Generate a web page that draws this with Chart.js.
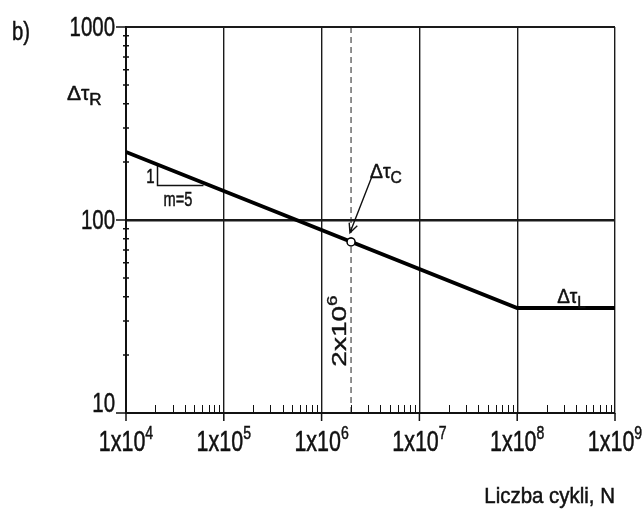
<!DOCTYPE html>
<html>
<head>
<meta charset="utf-8">
<script src="https://cdn.jsdelivr.net/npm/chart.js@4.4.0/dist/chart.umd.min.js"></script>
<style>
  html, body { margin: 0; padding: 0; background: #fff; }
</style>
</head>
<body>
<canvas id="snChart" width="642" height="514"></canvas>
<script>
// S-N curve (shear)
const cycles = [1e4, 1e8, 1e9];
const tauR = [225, 35, 35];
const refCycles = 2e6;
const tauC = 77;
// slope triangle "1 : m=5"
const slopeN = [2.1e4, 2.1e4, 6.2e4];
const slopeTau = [194, 151, 151];
// arrow to the Δτ_C point
const arrowN = [3.3e6, 1.95e6];
const arrowTau = [170, 86];
// axes
const xMajors = [1e4, 1e5, 1e6, 1e7, 1e8, 1e9];
const xExponents = ['4', '5', '6', '7', '8', '9'];
const yMajors = [10, 100, 1000];
const yLabels = ['10', '100', '1000'];
const minorSteps = [2, 3, 4, 5, 6, 7, 8, 9];

const FONT = "'Liberation Sans', Arial, sans-serif";

// parts: [text, size, dy]; sx squeezes the lettering horizontally
function drawRich(ctx, x, y, parts, align, sx, rotate) {
  ctx.save();
  ctx.translate(x, y);
  ctx.scale(sx, 1);
  if (rotate) ctx.rotate(-Math.PI / 2);
  let total = 0;
  parts.forEach(p => { ctx.font = p[1] + 'px ' + FONT; total += ctx.measureText(p[0]).width; });
  let cx = align === 'center' ? -total / 2 : align === 'right' ? -total : 0;
  ctx.fillStyle = '#111';
  ctx.strokeStyle = '#111';
  ctx.lineWidth = 0.5;
  ctx.textBaseline = 'alphabetic';
  ctx.textAlign = 'left';
  parts.forEach(p => {
    ctx.font = p[1] + 'px ' + FONT;
    ctx.fillText(p[0], cx, p[2] || 0);
    ctx.strokeText(p[0], cx, p[2] || 0);
    cx += ctx.measureText(p[0]).width;
  });
  ctx.restore();
}

const decorations = {
  id: 'decorations',
  afterDraw(chart) {
    const ctx = chart.ctx, xs = chart.scales.x, ys = chart.scales.y, a = chart.chartArea;
    ctx.save();
    ctx.strokeStyle = '#111';
    // bottom minor ticks (inside) and major ticks (outside)
    ctx.lineWidth = 1;
    ctx.beginPath();
    xMajors.slice(0, -1).forEach(d => minorSteps.forEach(m => {
      const px = Math.round(xs.getPixelForValue(d * m)) + 0.5;
      ctx.moveTo(px, a.bottom); ctx.lineTo(px, a.bottom - 8);
    }));
    ctx.stroke();
    ctx.lineWidth = 1.5;
    ctx.beginPath();
    xMajors.forEach(v => {
      const px = xs.getPixelForValue(v);
      ctx.moveTo(px, a.bottom); ctx.lineTo(px, a.bottom + 8);
    });
    // left ticks
    yMajors.forEach(v => {
      const py = ys.getPixelForValue(v);
      ctx.moveTo(a.left, py); ctx.lineTo(a.left - 10, py);
    });
    yMajors.slice(0, -1).forEach(d => minorSteps.forEach(m => {
      const py = ys.getPixelForValue(d * m);
      ctx.moveTo(a.left - 3, py); ctx.lineTo(a.left + 3, py);
    }));
    ctx.stroke();

    // arrow to Δτ_C
    const x0 = xs.getPixelForValue(arrowN[0]), y0 = ys.getPixelForValue(arrowTau[0]);
    const x1 = xs.getPixelForValue(arrowN[1]), y1 = ys.getPixelForValue(arrowTau[1]);
    const ang = Math.atan2(y1 - y0, x1 - x0);
    ctx.lineWidth = 1.4;
    ctx.beginPath();
    ctx.moveTo(x0, y0); ctx.lineTo(x1, y1);
    ctx.moveTo(x1 - 10 * Math.cos(ang - 0.45), y1 - 10 * Math.sin(ang - 0.45));
    ctx.lineTo(x1, y1);
    ctx.lineTo(x1 - 10 * Math.cos(ang + 0.45), y1 - 10 * Math.sin(ang + 0.45));
    ctx.stroke();
    ctx.restore();

    // x tick labels
    xMajors.forEach((v, i) => {
      drawRich(ctx, xs.getPixelForValue(v), a.bottom + 38,
        [['1x10', 29], [xExponents[i], 19, -12]], 'center', 0.74);
    });
    // y tick labels
    yMajors.forEach((v, i) => {
      const py = Math.min(ys.getPixelForValue(v), a.bottom - 10) + 9;
      drawRich(ctx, a.left - 11, py, [[yLabels[i], 28]], 'right', 0.73);
    });

    drawRich(ctx, 12, 40, [['b)', 26]], 'left', 0.78);
    drawRich(ctx, 67, 100, [['Δτ', 21], ['R', 17, 5]], 'left', 1);
    drawRich(ctx, a.right, 503, [['Liczba cykli, N', 22]], 'right', 0.93);

    const sx = xs.getPixelForValue(slopeN[0]);
    drawRich(ctx, sx - 3, ys.getPixelForValue(slopeTau[1]) - 2, [['1', 20]], 'right', 0.75);
    drawRich(ctx, sx + 6, ys.getPixelForValue(slopeTau[1]) + 21, [['m=5', 20]], 'left', 0.73);

    const cx = xs.getPixelForValue(refCycles);
    drawRich(ctx, cx + 19, 178, [['Δτ', 21], ['C', 17, 5]], 'left', 0.92);
    drawRich(ctx, cx - 5, 331, [['2x10', 28], ['6', 19, -12]], 'center', 0.74, true);
    drawRich(ctx, xs.getPixelForValue(cycles[1]) + 40, ys.getPixelForValue(tauR[1]) - 5,
      [['Δτ', 21], ['L', 17, 5]], 'left', 0.9);
  }
};

const whiteBg = {
  id: 'whiteBg',
  beforeDraw(chart) {
    const ctx = chart.ctx;
    ctx.save(); ctx.fillStyle = '#fff';
    ctx.fillRect(0, 0, chart.width, chart.height);
    ctx.restore();
  }
};

new Chart(document.getElementById('snChart'), {
  type: 'line',
  data: {
    datasets: [
      {
        data: cycles.map((n, i) => ({ x: n, y: tauR[i] })),
        borderColor: '#000', borderWidth: 3.8, pointRadius: 0, tension: 0, order: 2
      },
      {
        data: [{ x: refCycles, y: 10 }, { x: refCycles, y: 1000 }],
        borderColor: '#222', borderWidth: 1, borderDash: [6, 4], pointRadius: 0, order: 3
      },
      {
        data: slopeN.map((n, i) => ({ x: n, y: slopeTau[i] })),
        borderColor: '#111', borderWidth: 1.5, pointRadius: 0, tension: 0, order: 3
      },
      {
        data: [{ x: refCycles, y: tauC }],
        showLine: false, pointRadius: 4, pointBackgroundColor: '#fff',
        pointBorderColor: '#000', pointBorderWidth: 1.5, order: 1
      }
    ]
  },
  options: {
    responsive: false,
    animation: false,
    events: [],
    layout: { padding: { left: 126, top: 27, right: 27, bottom: 101 } },
    plugins: { legend: { display: false }, tooltip: { enabled: false } },
    scales: {
      x: {
        type: 'logarithmic', min: 1e4, max: 1e9,
        afterBuildTicks: s => { s.ticks = xMajors.map(v => ({ value: v, major: true })); },
        ticks: { display: false },
        grid: { color: '#1a1a1a', lineWidth: 1.4, drawTicks: false },
        border: { display: true, color: '#111', width: 2 }
      },
      y: {
        type: 'logarithmic', min: 10, max: 1000,
        afterBuildTicks: s => { s.ticks = yMajors.map(v => ({ value: v, major: true })); },
        ticks: { display: false },
        grid: { color: '#1a1a1a', lineWidth: c => (c.tick && c.tick.value === 100 ? 2.5 : 2), drawTicks: false },
        border: { display: true, color: '#111', width: 2 }
      }
    }
  },
  plugins: [whiteBg, decorations]
});
</script>
</body>
</html>
